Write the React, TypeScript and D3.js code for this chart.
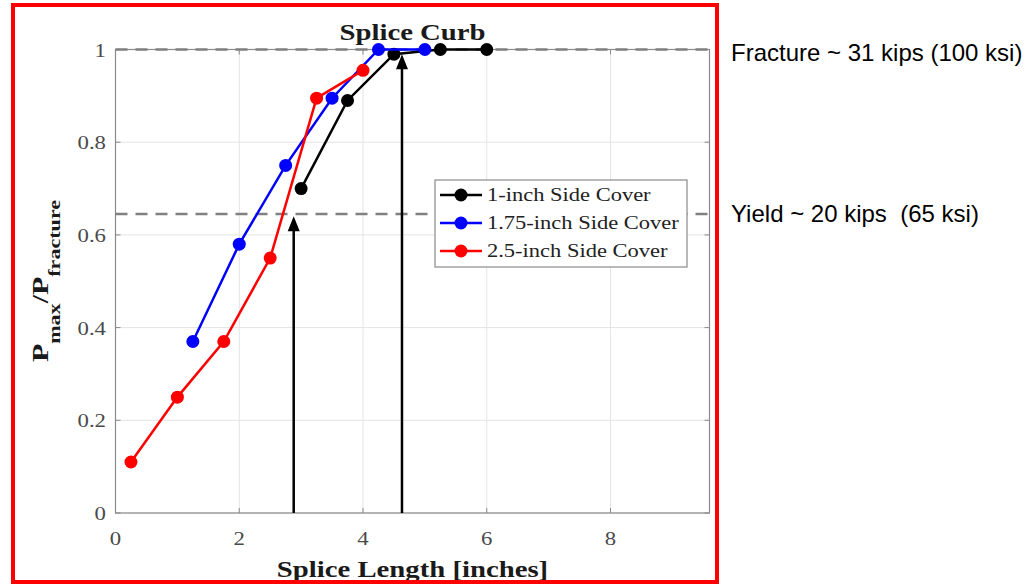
import React from "react";
import * as d3 from "d3";

// Splice length (inches) and normalized peak load for each side-cover case
const coverLabels = ["1-inch Side Cover", "1.75-inch Side Cover", "2.5-inch Side Cover"];
const coverColors = ["#000000", "#0000ff", "#ff0000"];

const len1 = [3.0, 3.75, 4.5, 5.25, 6.0];
const ratio1 = [0.70, 0.89, 0.99, 1.0, 1.0];

const len175 = [1.25, 2.0, 2.75, 3.5, 4.25, 5.0];
const ratio175 = [0.37, 0.58, 0.75, 0.895, 1.0, 1.0];

const len25 = [0.25, 1.0, 1.75, 2.5, 3.25, 4.0];
const ratio25 = [0.11, 0.25, 0.37, 0.55, 0.895, 0.955];

const xTicks = [0, 2, 4, 6, 8];
const yTicks = [0, 0.2, 0.4, 0.6, 0.8, 1];

// Reference levels: fracture and yield (20/31 kips)
const fractureLevel = 1.0;
const yieldLevel = 0.645;

// Arrows marking where each curve reaches yield / fracture
const arrowX = [2.88, 4.63];
const arrowTop = [0.64, 0.99];

const SERIF = "'Liberation Serif', 'DejaVu Serif', serif";
const SANS = "'Liberation Sans', Arial, sans-serif";

function Stretched({ x, y, sx = 1.25, rotate = 0, children }: any) {
  return <g transform={`translate(${x},${y}) rotate(${rotate}) scale(${sx},1)`}>{children}</g>;
}

export default function App() {
  const left = 115.5;
  const right = 709.5;
  const top = 49.5;
  const bottom = 513;
  const x = d3.scaleLinear().domain([0, 9.6]).range([left, right]);
  const y = d3.scaleLinear().domain([0, 1]).range([bottom, top]);

  const series = [
    { xs: len1, ys: ratio1 },
    { xs: len175, ys: ratio175 },
    { xs: len25, ys: ratio25 },
  ];
  const line = d3
    .line<[number, number]>()
    .x((d) => x(d[0]))
    .y((d) => y(d[1]));

  const gridColor = "#e4e4e4";
  const axisColor = "#8a8a8a";
  const tickText = "#4a4a4a";

  return (
    <svg width={1036} height={584} style={{ position: "absolute", left: 0, top: 0, background: "#fff" }}>
      {/* plot background and grid */}
      <rect x={left} y={top} width={right - left} height={bottom - top} fill="#fff" />
      {xTicks.map((t) => (
        <line key={"gx" + t} x1={x(t)} x2={x(t)} y1={top} y2={bottom} stroke={gridColor} strokeWidth={1} />
      ))}
      {yTicks.map((t) => (
        <line key={"gy" + t} x1={left} x2={right} y1={y(t)} y2={y(t)} stroke={gridColor} strokeWidth={1} />
      ))}

      {/* axis box and inward ticks */}
      <rect x={left} y={top} width={right - left} height={bottom - top} fill="none" stroke={axisColor} strokeWidth={1.2} />
      {xTicks.map((t) => (
        <g key={"tx" + t}>
          <line x1={x(t)} x2={x(t)} y1={bottom} y2={bottom - 5} stroke={axisColor} />
          <line x1={x(t)} x2={x(t)} y1={top} y2={top + 5} stroke={axisColor} />
        </g>
      ))}
      {yTicks.map((t) => (
        <g key={"ty" + t}>
          <line x1={left} x2={left + 5} y1={y(t)} y2={y(t)} stroke={axisColor} />
          <line x1={right} x2={right - 5} y1={y(t)} y2={y(t)} stroke={axisColor} />
        </g>
      ))}

      {/* tick labels */}
      {xTicks.map((t) => (
        <Stretched key={"lx" + t} x={x(t)} y={545} sx={1.2}>
          <text textAnchor="middle" fontFamily={SERIF} fontSize={19} fill={tickText}>
            {t}
          </text>
        </Stretched>
      ))}
      {yTicks.map((t) => (
        <Stretched key={"ly" + t} x={106} y={y(t) + 7} sx={1.2}>
          <text textAnchor="end" fontFamily={SERIF} fontSize={19} fill={tickText}>
            {t}
          </text>
        </Stretched>
      ))}

      {/* fracture and yield levels */}
      {[fractureLevel, yieldLevel].map((v) => (
        <line
          key={"ref" + v}
          x1={left}
          x2={right}
          y1={y(v)}
          y2={y(v)}
          stroke="#808080"
          strokeWidth={2.5}
          strokeDasharray="12 8"
        />
      ))}

      {/* data series */}
      {series.map((s, i) => (
        <g key={"s" + i}>
          <path
            d={line(s.xs.map((v, j) => [v, s.ys[j]] as [number, number])) || ""}
            fill="none"
            stroke={coverColors[i]}
            strokeWidth={2.5}
          />
          {s.xs.map((v, j) => (
            <circle key={j} cx={x(v)} cy={y(s.ys[j])} r={6.5} fill={coverColors[i]} />
          ))}
        </g>
      ))}

      {/* arrows */}
      {arrowX.map((ax, i) => {
        const px = x(ax);
        const tipY = y(arrowTop[i]);
        return (
          <g key={"ar" + i}>
            <line x1={px} x2={px} y1={y(0)} y2={tipY + 12} stroke="#000" strokeWidth={2.5} />
            <path d={`M${px},${tipY} L${px - 6},${tipY + 15} L${px + 6},${tipY + 15} Z`} fill="#000" />
          </g>
        );
      })}

      {/* legend */}
      <rect x={435} y={180} width={252} height={87} fill="#fff" stroke="#8a8a8a" strokeWidth={1.2} />
      {coverLabels.map((lab, i) => {
        const cy = 195 + i * 28;
        return (
          <g key={"lg" + i}>
            <line x1={440} x2={482} y1={cy} y2={cy} stroke={coverColors[i]} strokeWidth={2.5} />
            <circle cx={461} cy={cy} r={6.5} fill={coverColors[i]} />
            <Stretched x={487} y={cy + 6} sx={1.25}>
              <text fontFamily={SERIF} fontSize={18} fill="#222">
                {lab}
              </text>
            </Stretched>
          </g>
        );
      })}

      {/* title and axis labels */}
      <Stretched x={(left + right) / 2} y={40} sx={1.25}>
        <text textAnchor="middle" fontFamily={SERIF} fontSize={23} fontWeight="bold" fill="#1a1a1a">
          Splice Curb
        </text>
      </Stretched>
      <Stretched x={(left + right) / 2} y={577} sx={1.25}>
        <text textAnchor="middle" fontFamily={SERIF} fontSize={23} fontWeight="bold" fill="#1a1a1a">
          Splice Length [inches]
        </text>
      </Stretched>
      <g transform={`translate(48,281) rotate(-90) scale(1.3,1)`}>
        <text textAnchor="middle" fontFamily={SERIF} fontWeight="bold" fill="#1a1a1a" fontSize={23}>
          <tspan>P</tspan>
          <tspan fontSize={17} dy={12}>max</tspan>
          <tspan dy={-12}>/P</tspan>
          <tspan fontSize={17} dy={12}>fracture</tspan>
        </text>
      </g>

      {/* annotations beside the chart */}
      <text x={731} y={61} fontFamily={SANS} fontSize={24} fill="#000">
        Fracture ~ 31 kips (100 ksi)
      </text>
      <text x={731} y={222} fontFamily={SANS} fontSize={24} fill="#000" style={{ whiteSpace: "pre" }}>
        {"Yield ~ 20 kips  (65 ksi)"}
      </text>

      {/* frame */}
      <rect x={13} y={5} width={704} height={577} fill="none" stroke="#ff0000" strokeWidth={4} />
    </svg>
  );
}
